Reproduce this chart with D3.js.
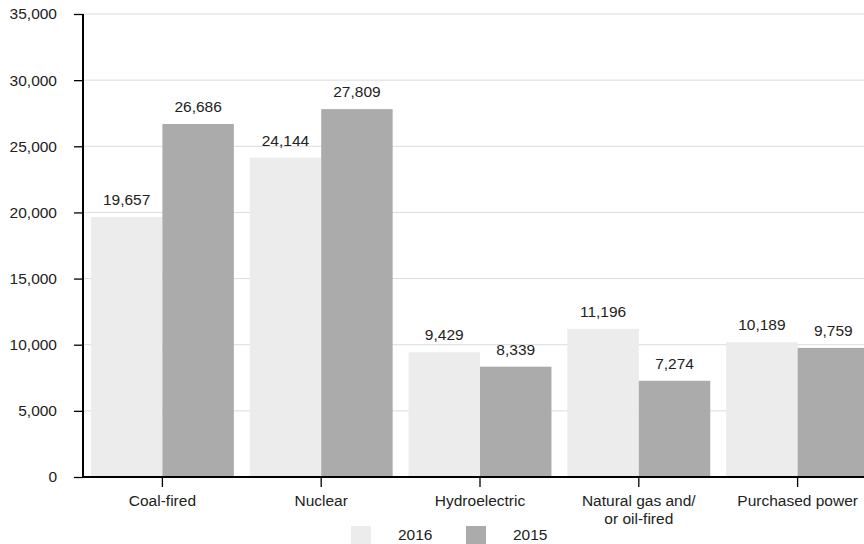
<!DOCTYPE html>
<html><head><meta charset="utf-8">
<script src="https://cdn.jsdelivr.net/npm/d3@7"></script>
<style>body{margin:0;background:#fff}svg{display:block}text{font-family:"Liberation Sans",Arial,sans-serif;fill:#222}</style>
</head><body><svg id="c" width="864" height="544"></svg>
<script>
const categories = [["Coal-fired"],["Nuclear"],["Hydroelectric"],["Natural gas and/","or oil-fired"],["Purchased power"]];
const seriesNames = ["2016","2015"];
const values2016 = [19657,24144,9429,11196,10189];
const values2015 = [26686,27809,8339,7274,9759];
const yTicks = [0,5000,10000,15000,20000,25000,30000,35000];
const colors = ["#ececec","#ababab"];

const svg = d3.select("#c");
const x0 = 83, yTop = 14, yBot = 477;
const y = d3.scaleLinear().domain([0,35000]).range([yBot,yTop]);
const keys = categories.map(c=>c.join(" "));
const x = d3.scaleBand().domain(keys).range([x0,877]).paddingInner(0.1).paddingOuter(0.05);
const xs = d3.scaleBand().domain(seriesNames).range([0,x.bandwidth()]);
const fmt = d3.format(",");
const FS = 15.5;

// gridlines
svg.append("g").selectAll("line").data(yTicks.filter(d=>d>0)).join("line")
  .attr("x1",x0).attr("x2",864).attr("y1",d=>y(d)).attr("y2",d=>y(d))
  .attr("stroke","#dcdcdc").attr("stroke-width",1);

// bars
const series = [values2016, values2015];
const g = svg.append("g");
series.forEach((vals,si)=>{
  g.selectAll(null).data(vals).join("rect")
    .attr("x",(d,i)=>x(keys[i])+xs(seriesNames[si]))
    .attr("y",d=>y(d)).attr("width",xs.bandwidth()).attr("height",d=>yBot-y(d))
    .attr("fill",colors[si]);
  g.selectAll(null).data(vals).join("text")
    .attr("x",(d,i)=>x(keys[i])+xs(seriesNames[si])+xs.bandwidth()/2)
    .attr("y",d=>y(d)-12).attr("text-anchor","middle").attr("font-size",FS)
    .text(d=>fmt(d));
});

// y axis
const ya = svg.append("g").attr("transform",`translate(${x0},0)`)
  .call(d3.axisLeft(y).tickValues(yTicks).tickFormat(fmt).tickSize(9).tickPadding(17));
ya.select(".domain").attr("stroke","#000").attr("stroke-width",2).attr("d",`M0,${yTop}V${yBot}`);
ya.selectAll(".tick line").attr("stroke","#000").attr("stroke-width",1.3);
ya.selectAll(".tick text").attr("font-size",FS).attr("fill","#222").attr("font-family","Liberation Sans, Arial, sans-serif");

// x axis
const xa = svg.append("g").attr("transform",`translate(0,${yBot})`)
  .call(d3.axisBottom(x).tickSize(10).tickFormat(""));
xa.select(".domain").attr("stroke","#000").attr("stroke-width",2).attr("d",`M${x0},0H877`);
xa.selectAll(".tick line").attr("stroke","#000").attr("stroke-width",1.3);
xa.selectAll(".tick").each(function(d,i){
  const t = d3.select(this).append("text").attr("text-anchor","middle").attr("font-size",FS)
    .attr("fill","#222").attr("font-family","Liberation Sans, Arial, sans-serif");
  categories[i].forEach((line,li)=>t.append("tspan").attr("x",0).attr("y",29+li*18).text(line));
});

// legend
const lg = svg.append("g");
const legX = [351,466];
seriesNames.forEach((s,i)=>{
  lg.append("rect").attr("x",legX[i]).attr("y",526).attr("width",20).attr("height",18).attr("fill",colors[i]);
  lg.append("text").attr("x",legX[i]+47).attr("y",540).attr("font-size",FS).text(s);
});
</script></body></html>
